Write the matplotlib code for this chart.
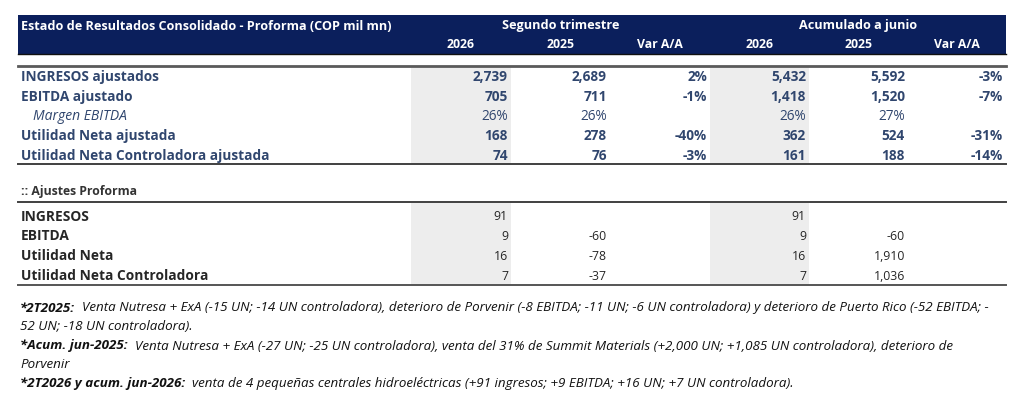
import matplotlib.pyplot as plt
from matplotlib.patches import Rectangle

plt.rcParams['font.family'] = ['Open Sans', 'DejaVu Sans']

# ---- table content ----
title = 'Estado de Resultados Consolidado - Proforma (COP mil mn)'
groups = ['Segundo trimestre', 'Acumulado a junio']
col_heads = ['2026', '2025', 'Var A/A', '2026', '2025', 'Var A/A']

main_rows = ['INGRESOS ajustados', 'EBITDA ajustado', 'Margen EBITDA',
             'Utilidad Neta ajustada', 'Utilidad Neta Controladora ajustada']
q2_2026 = [2739, 705, 26, 168, 74]
q2_2025 = [2689, 711, 26, 278, 76]
q2_var = [2, -1, None, -40, -3]
acum_2026 = [5432, 1418, 26, 362, 161]
acum_2025 = [5592, 1520, 27, 524, 188]
acum_var = [-3, -7, None, -31, -14]

adj_title = ':: Ajustes Proforma'
adj_rows = ['INGRESOS', 'EBITDA', 'Utilidad Neta', 'Utilidad Neta Controladora']
adj_q2_2026 = [91, 9, 16, 7]
adj_q2_2025 = [None, -60, -78, -37]
adj_acum_2026 = [91, 9, 16, 7]
adj_acum_2025 = [None, -60, 1910, 1036]

notes = [
    ('*2T2025:', 'Venta Nutresa + ExA (-15 UN; -14 UN controladora), deterioro de Porvenir '
                 '(-8 EBITDA; -11 UN; -6 UN controladora) y deterioro de Puerto Rico (-52 EBITDA; -'),
    ('', '52 UN; -18 UN controladora).'),
    ('*Acum. jun-2025:', 'Venta Nutresa + ExA (-27 UN; -25 UN controladora), venta del 31% de Summit '
                         'Materials (+2,000 UN; +1,085 UN controladora), deterioro de'),
    ('', 'Porvenir'),
    ('*2T2026 y acum. jun-2026:', 'venta de 4 pequeñas centrales hidroeléctricas '
                                  '(+91 ingresos; +9 EBITDA; +16 UN; +7 UN controladora).'),
]

# ---- layout (pixel space) ----
W, H = 1024, 416
NAVY = '#0b1f5c'
SLATE = '#30466e'
SHADE = '#ededed'
col_edges = [411, 511, 610, 710, 809, 908, 1006]
main_y = [77, 97, 116, 136, 156]
adj_y = [217, 236, 256, 276]
note_y = [308, 327, 346, 364, 383]


def fmt(v, pct=False):
    if v is None:
        return ''
    return f'{v}%' if pct else f'{v:,}'


fig = plt.figure(figsize=(W / 100, H / 100), dpi=100)
ax = fig.add_axes([0, 0, 1, 1])
ax.set_xlim(0, W)
ax.set_ylim(H, 0)
ax.axis('off')

# shaded 2026 columns
for c in (0, 3):
    x0, x1 = col_edges[c], col_edges[c + 1]
    ax.add_patch(Rectangle((x0, 67), x1 - x0, 96, color=SHADE, lw=0))
    ax.add_patch(Rectangle((x0, 203), x1 - x0, 82, color=SHADE, lw=0))

# header band
ax.add_patch(Rectangle((18, 15), 988, 39, color=NAVY, lw=0))
ax.plot([18, 1006], [54, 54], color='#111111', lw=1)
ax.text(21, 26, title, color='white', fontsize=9.1, fontweight='bold', va='center')
for g, name in enumerate(groups):
    xc = (col_edges[3 * g] + col_edges[3 * g + 3]) / 2
    ax.text(xc, 26, name, color='white', fontsize=9.1, fontweight='bold', va='center', ha='center')
for c, name in enumerate(col_heads):
    xc = (col_edges[c] + col_edges[c + 1]) / 2
    ax.text(xc, 45, name, color='white', fontsize=8.8, fontweight='bold', va='center', ha='center')

# rule lines
ax.plot([18, 1006], [66, 66], color='#5a5a5a', lw=2)
ax.plot([18, 1006], [164, 164], color='#404040', lw=1.4)
ax.plot([18, 1006], [202, 202], color='#404040', lw=1.4)
ax.plot([18, 1006], [285, 285], color='#555555', lw=1.4)

# main block
main_cols = [q2_2026, q2_2025, q2_var, acum_2026, acum_2025, acum_var]
for r, label in enumerate(main_rows):
    y = main_y[r]
    is_margin = label == 'Margen EBITDA'
    ax.text(33 if is_margin else 21, y, label, color=SLATE, fontsize=10 if is_margin else 9.8,
            fontweight='normal' if is_margin else 'bold',
            fontstyle='italic' if is_margin else 'normal', va='center')
    for c, col in enumerate(main_cols):
        pct = is_margin or c in (2, 5)
        ax.text(col_edges[c + 1] - 3, y, fmt(col[r], pct), color=SLATE, fontsize=9.8,
                fontweight='normal' if is_margin else 'bold', va='center', ha='right')

# adjustments block
ax.text(21, 191, adj_title, color='#333333', fontsize=8.8, fontweight='bold', va='center')
adj_cols = [adj_q2_2026, adj_q2_2025, None, adj_acum_2026, adj_acum_2025, None]
for r, label in enumerate(adj_rows):
    y = adj_y[r]
    ax.text(21, y, label, color='#262626', fontsize=9.9, fontweight='bold', va='center')
    for c, col in enumerate(adj_cols):
        if col is None:
            continue
        ax.text(col_edges[c + 1] - 3, y, fmt(col[r]), color='#262626', fontsize=8.8,
                va='center', ha='right')

# footnotes: bold prefix followed by italic text
fig.canvas.draw()
renderer = fig.canvas.get_renderer()
inv = ax.transData.inverted()
for (head, body), y in zip(notes, note_y):
    x = 20
    if head:
        t = ax.text(x, y, head, color='#111111', fontsize=9.6, fontweight='bold',
                    fontstyle='italic', va='center')
        bb = t.get_window_extent(renderer)
        x = inv.transform((bb.x1, bb.y0))[0] + 7
    ax.text(x, y, body, color='#111111', fontsize=9.6, fontstyle='italic', va='center')

fig.savefig('out.png', dpi=100)
